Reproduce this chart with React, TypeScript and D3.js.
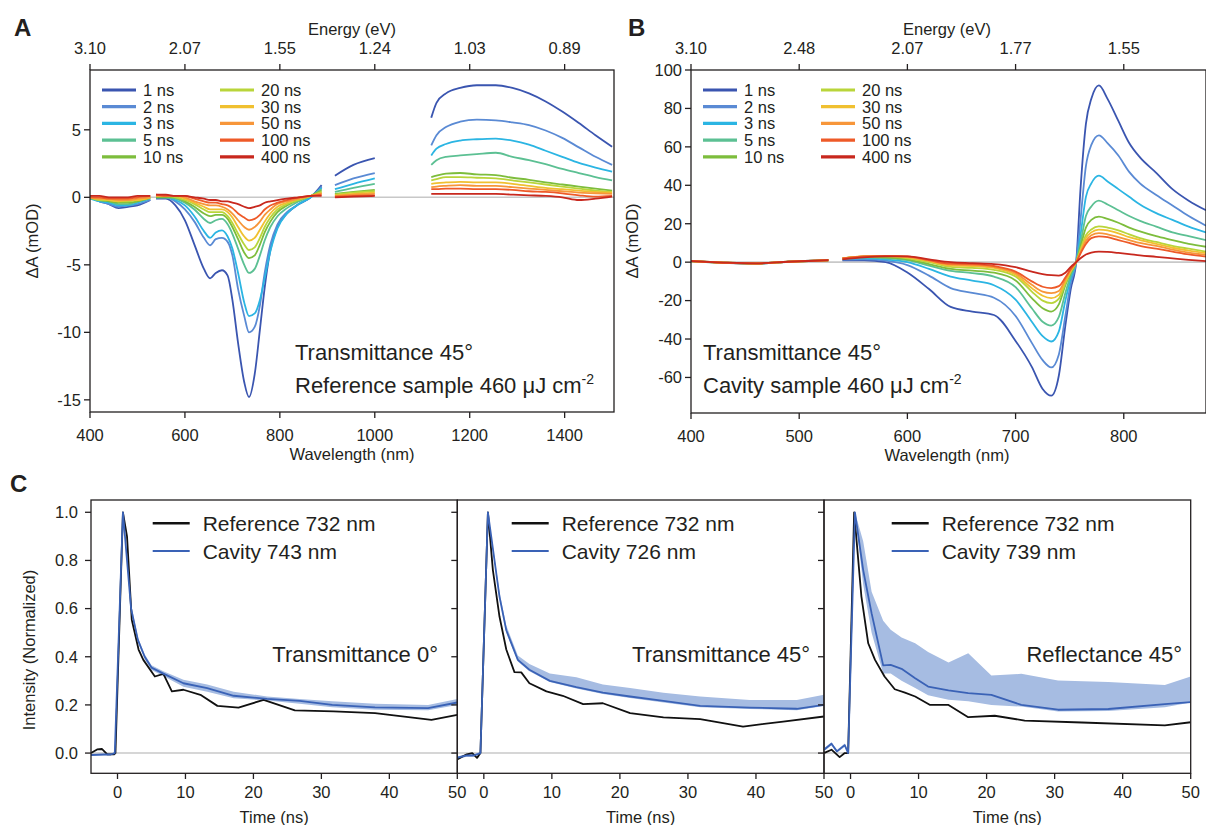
import React from "react";
import * as d3 from "d3";

// ---------------- DATA ----------------
const delays = ["1 ns", "2 ns", "3 ns", "5 ns", "10 ns", "20 ns", "30 ns", "50 ns", "100 ns", "400 ns"];
const delayColors = ["#3a55b0", "#5a8ad4", "#2bb5e3", "#5cc093", "#7dbd3c", "#b9d53a", "#f0c030", "#f7963a", "#ee5a28", "#c8281e"];

// Panel A: wavelength grid (gap entries carry null values)
const wlA = [400, 420, 440, 460, 480, 500, 527, 533,
  539, 560, 580, 600, 620, 640, 653, 665, 678, 690, 700, 712, 725, 735, 747, 758, 768, 780, 795, 815, 840, 865, 888, 900,
  916, 955, 1000, 1060,
  1119, 1130, 1150, 1180, 1215, 1255, 1290, 1325, 1360, 1395, 1430, 1465, 1500];

const a1 = [0, -0.3, -0.5, -0.8, -0.7, -0.6, -0.2, null,
  -0.1, -0.1, -0.6, -1.7, -3.5, -5.3, -6.0, -5.6, -5.4, -5.8, -7.6, -10.8, -13.7, -14.8, -13.1, -9.8, -6.7, -3.9, -2.2, -1.2, -0.5, 0.0, 0.9, null,
  1.6, 2.4, 2.9, null,
  5.9, 7.0, 7.7, 8.1, 8.3, 8.3, 8.1, 7.7, 7.1, 6.35, 5.5, 4.6, 3.75];
const a2 = [0, -0.3, -0.5, -0.7, -0.6, -0.5, -0.2, null,
  0, 0, -0.3, -0.9, -1.8, -3.0, -3.55, -3.1, -3.0, -3.3, -4.3, -6.8, -8.8, -10.0, -9.6, -8.0, -5.6, -3.5, -2.0, -1.1, -0.5, 0.0, 0.8, null,
  0.9, 1.4, 1.8, null,
  3.85, 4.6, 5.2, 5.6, 5.75, 5.7, 5.55, 5.35, 4.95, 4.4, 3.7, 3.0, 2.4];
const a3 = [-0.1, -0.3, -0.4, -0.6, -0.6, -0.4, -0.1, null,
  0, 0, -0.2, -0.6, -1.4, -2.5, -3.0, -2.6, -2.45, -2.9, -3.8, -5.6, -7.8, -8.8, -8.6, -7.6, -6.0, -4.0, -2.3, -1.2, -0.5, 0.0, 0.7, null,
  0.6, 1.0, 1.4, null,
  3.1, 3.6, 3.95, 4.2, 4.3, 4.35, 4.2, 3.9, 3.45, 3.0, 2.55, 2.2, 1.9];
const a5 = [-0.1, -0.2, -0.3, -0.5, -0.5, -0.3, -0.1, null,
  0, 0, -0.1, -0.4, -0.9, -1.6, -1.9, -1.7, -1.6, -2.0, -2.7, -3.8, -5.0, -5.6, -5.3, -4.3, -3.2, -2.2, -1.4, -0.8, -0.3, 0.1, 0.6, null,
  0.4, 0.7, 1.0, null,
  2.4, 2.75, 3.0, 3.1, 3.2, 3.3, 3.0, 2.75, 2.45, 2.1, 1.8, 1.5, 1.25];
const a10 = [0, -0.2, -0.3, -0.4, -0.4, -0.3, 0, null,
  0, 0, 0, -0.3, -0.7, -1.2, -1.4, -1.3, -1.3, -1.6, -2.2, -3.1, -4.1, -4.5, -4.3, -3.5, -2.6, -1.8, -1.1, -0.6, -0.2, 0.1, 0.5, null,
  0.25, 0.4, 0.55, null,
  1.5, 1.6, 1.75, 1.8, 1.7, 1.65, 1.45, 1.3, 1.1, 0.95, 0.8, 0.65, 0.5];
const a20 = [0, -0.2, -0.2, -0.3, -0.3, -0.2, 0, null,
  0.1, 0.1, 0, -0.2, -0.5, -0.9, -1.1, -1.1, -1.1, -1.4, -1.9, -2.7, -3.5, -3.9, -3.7, -3.0, -2.2, -1.5, -0.9, -0.5, -0.2, 0.1, 0.4, null,
  0.2, 0.35, 0.45, null,
  1.25, 1.35, 1.5, 1.5, 1.45, 1.4, 1.25, 1.1, 0.95, 0.8, 0.65, 0.5, 0.4];
const a30 = [0, -0.1, -0.2, -0.3, -0.2, -0.2, 0, null,
  0.1, 0.1, 0.1, -0.1, -0.4, -0.7, -0.9, -0.9, -0.9, -1.1, -1.5, -2.2, -2.9, -3.2, -3.0, -2.4, -1.8, -1.2, -0.7, -0.4, -0.1, 0.1, 0.3, null,
  0.15, 0.25, 0.35, null,
  1.0, 1.05, 1.1, 1.15, 1.1, 1.1, 1.0, 0.85, 0.7, 0.6, 0.5, 0.4, 0.35];
const a50 = [0, -0.1, -0.1, -0.2, -0.2, -0.1, 0, null,
  0.1, 0.1, 0.1, 0, -0.3, -0.5, -0.6, -0.6, -0.7, -0.9, -1.2, -1.7, -2.2, -2.4, -2.2, -1.8, -1.3, -0.9, -0.5, -0.3, -0.1, 0.1, 0.3, null,
  0.1, 0.2, 0.25, null,
  0.75, 0.8, 0.85, 0.9, 0.85, 0.85, 0.75, 0.65, 0.55, 0.45, 0.35, 0.3, 0.25];
const a100 = [0, 0, -0.1, -0.1, -0.1, 0, 0.1, null,
  0.2, 0.1, 0.1, 0.1, -0.1, -0.3, -0.4, -0.4, -0.5, -0.6, -0.8, -1.2, -1.5, -1.7, -1.6, -1.3, -0.9, -0.6, -0.4, -0.2, 0, 0.1, 0.2, null,
  0.05, 0.1, 0.15, null,
  0.6, 0.6, 0.65, 0.65, 0.6, 0.6, 0.55, 0.45, 0.4, 0.3, 0.15, 0.05, 0.1];
const a400 = [0.1, 0.1, 0, 0, 0, 0.1, 0.1, null,
  0.2, 0.2, 0.1, 0.1, 0, -0.1, -0.2, -0.2, -0.3, -0.3, -0.4, -0.5, -0.7, -0.8, -0.7, -0.6, -0.4, -0.3, -0.2, -0.1, 0, 0.1, 0.1, null,
  0, 0.05, 0.1, null,
  0.25, 0.25, 0.25, 0.25, 0.25, 0.25, 0.2, 0.15, 0.1, 0.0, -0.2, -0.1, 0.05];
const seriesA = [a1, a2, a3, a5, a10, a20, a30, a50, a100, a400];

// Panel B: wavelength grid
const wlB = [400, 430, 460, 490, 527, 533,
  540, 560, 580, 600, 620, 640, 660, 680, 700, 715, 725, 733, 740, 746, 751, 756, 760, 765, 770, 777, 785, 795, 805, 815, 830, 845, 860, 876];

const b1 = [0.5, -0.3, -0.8, 0.2, 1.0, null, 1.0, 1.0, 0, -5.4, -14, -23.3, -25.7, -27.5, -41, -54.5, -66, -69.5, -59, -33, -14, 0, 38, 72, 85, 92, 85, 73.5, 62, 54.5, 46.5, 38, 32, 27];
const b2 = [0.6, -0.2, -0.7, 0.3, 1.1, null, 1.3, 1.5, 0.8, -1.5, -7, -13.5, -16, -18.5, -28, -42, -51, -54.8, -48, -28, -11, 0, 22, 50, 61, 66, 62, 55.5, 47, 41, 35, 29.5, 24, 19];
const b3 = [0.4, -0.4, -0.8, 0.1, 0.9, null, 1.5, 2.0, 1.5, 0, -3.5, -7.5, -9.6, -12, -19.5, -31, -38.5, -41.3, -36, -20, -8.5, 0, 14, 34, 41, 45, 42, 38, 34, 30, 25.5, 22, 18.5, 15.5];
const b5 = [0.5, -0.2, -0.6, 0.2, 1.0, null, 1.8, 2.5, 2.0, 1.0, -1.8, -4.5, -5.7, -7.5, -13, -24, -31, -33, -28.5, -16, -7, 0, 10, 24, 29, 32, 30, 27, 24, 21.5, 18.5, 15.5, 13.5, 11.5];
const b10 = [0.6, -0.3, -0.7, 0.3, 1.1, null, 2.0, 2.8, 2.5, 1.5, -1, -3.5, -4.4, -5.5, -9.5, -18.7, -24, -25.7, -22, -12, -5.5, 0, 8, 18, 22, 23.7, 22.5, 20.5, 18, 16, 13.5, 11.5, 9.5, 8];
const b20 = [0.5, -0.2, -0.6, 0.2, 1.0, null, 2.0, 3.0, 3.0, 2.0, 0, -2.5, -3, -4, -7.5, -15.3, -20, -21.3, -19, -11, -5, 0, 6.5, 14, 17, 18.6, 18, 16.5, 14.5, 12.5, 10.5, 8.5, 7, 5.5];
const b30 = [0.4, -0.3, -0.7, 0.1, 0.9, null, 2.0, 3.0, 3.2, 2.5, 0.5, -1.8, -2, -3, -6.6, -13.5, -17.5, -18.7, -17, -10, -4.5, 0, 5.5, 12.5, 15.5, 16.9, 16.5, 15, 13, 11.5, 9.5, 7.5, 6, 4.7];
const b50 = [0.5, -0.2, -0.6, 0.2, 1.0, null, 2.0, 3.0, 3.3, 2.8, 0.8, -1.2, -1.5, -2.5, -5.7, -11.8, -15.3, -16.1, -15, -9, -4, 0, 5, 11, 14, 15.1, 14.5, 13, 11.5, 10, 8.5, 6.5, 5, 3.8];
const b100 = [0.6, -0.3, -0.7, 0.3, 1.1, null, 2.0, 3.0, 3.3, 3.0, 1.0, -0.8, -1, -2, -4.9, -10, -12.8, -13.5, -12.5, -8, -3.5, 0, 4.5, 9.5, 12.5, 13.4, 13, 11.5, 10, 8.5, 7, 5.5, 4, 2.9];
const b400 = [0.5, -0.2, -0.6, 0.2, 1.0, null, 1.5, 2.5, 3.0, 3.0, 1.5, 0, -0.5, -1, -2.6, -4.9, -6.2, -6.8, -7, -5.5, -2.5, 0, 2, 4, 5, 5.5, 5.3, 4.8, 4.2, 3.5, 2.8, 2, 1.2, 0.5];
const seriesB = [b1, b2, b3, b5, b10, b20, b30, b50, b100, b400];

// Axis ticks
const wlTicksA = [400, 600, 800, 1000, 1200, 1400];
const eTickLabelsA = ["3.10", "2.07", "1.55", "1.24", "1.03", "0.89"];
const yTicksA = [-15, -10, -5, 0, 5];
const wlTicksB = [400, 500, 600, 700, 800];
const eTickLabelsB = ["3.10", "2.48", "2.07", "1.77", "1.55"];
const yTicksB = [-60, -40, -20, 0, 20, 40, 60, 80, 100];
const timeTicks = [0, 10, 20, 30, 40, 50];
const intTicks = [0.0, 0.2, 0.4, 0.6, 0.8, 1.0];

// Panel C kinetics
const c1RefT = [-3.9, -3, -2.3, -1.5, -0.5, -0.3, 0.8, 1.4, 2.1, 3.1, 3.8, 5.5, 6.75, 8.0, 9.7, 12.2, 14.7, 17.8, 21.5, 26.1, 31.8, 37.9, 46.2, 50];
const c1RefV = [0.0, 0.015, 0.017, -0.005, -0.005, 0.0, 1.0, 0.9, 0.553, 0.43, 0.387, 0.318, 0.329, 0.256, 0.263, 0.242, 0.196, 0.189, 0.221, 0.177, 0.173, 0.166, 0.138, 0.159];
const c1CavT = [-3.9, -2, -1, -0.4, 0.8, 2.0, 3.0, 4.0, 5.0, 6.75, 9.7, 13.2, 17.1, 22, 26.8, 31.6, 37.9, 45.7, 50];
const c1CavV = [-0.008, -0.006, -0.006, 0.0, 1.0, 0.6, 0.47, 0.4, 0.355, 0.33, 0.29, 0.27, 0.238, 0.225, 0.217, 0.2, 0.19, 0.187, 0.21];
const c1CavHi = [-0.005, -0.003, -0.003, 0.003, 1.0, 0.62, 0.48, 0.41, 0.365, 0.34, 0.305, 0.285, 0.255, 0.235, 0.225, 0.215, 0.205, 0.2, 0.225];
const c1CavLo = [-0.011, -0.009, -0.009, -0.003, 1.0, 0.58, 0.46, 0.39, 0.345, 0.32, 0.275, 0.255, 0.228, 0.218, 0.205, 0.19, 0.18, 0.178, 0.2];

const c2RefT = [-4, -3.5, -2.5, -1.7, -1.0, -0.5, 0.6, 1.33, 2.3, 3.3, 4.5, 5.5, 6.7, 9.2, 11.6, 14.6, 17.5, 21.5, 26.4, 31.8, 38.1, 44, 50];
const c2RefV = [-0.028, -0.02, -0.005, 0.0, -0.02, 0.0, 1.0, 0.76, 0.567, 0.43, 0.336, 0.335, 0.29, 0.256, 0.238, 0.203, 0.207, 0.166, 0.148, 0.141, 0.11, 0.131, 0.152];
const c2CavT = [-4, -2.5, -1.5, -0.5, 0.6, 2.3, 3.3, 5.0, 6.7, 9.7, 13.6, 17.5, 21.5, 26.4, 31.8, 39.1, 46, 50];
const c2CavV = [-0.02, -0.01, -0.01, 0.0, 1.0, 0.65, 0.51, 0.387, 0.346, 0.30, 0.274, 0.251, 0.235, 0.217, 0.196, 0.189, 0.184, 0.2];
const c2CavHi = [-0.015, -0.005, -0.005, 0.005, 1.0, 0.67, 0.53, 0.405, 0.37, 0.33, 0.315, 0.285, 0.27, 0.251, 0.235, 0.22, 0.22, 0.242];
const c2CavLo = [-0.025, -0.015, -0.015, -0.005, 1.0, 0.64, 0.5, 0.38, 0.34, 0.295, 0.268, 0.245, 0.229, 0.21, 0.19, 0.183, 0.178, 0.195];

const c3RefT = [-3.9, -2.8, -1.6, -0.85, -0.35, 0.53, 1.6, 2.6, 3.6, 5.0, 6.5, 8.0, 9.5, 11.7, 14.4, 17.3, 21.2, 25.6, 34, 46.2, 50];
const c3RefV = [0, 0.014, -0.017, 0, 0, 1.0, 0.65, 0.456, 0.387, 0.318, 0.265, 0.251, 0.235, 0.2, 0.2, 0.149, 0.155, 0.135, 0.127, 0.115, 0.128];
const c3CavT = [-3.9, -2.8, -2.0, -0.85, -0.35, 0.65, 1.86, 3.1, 4.8, 5.9, 7.5, 9.5, 11.4, 14.4, 17.3, 20.7, 25.1, 30.5, 37.9, 46.2, 50];
const c3CavV = [0.014, 0.039, 0.007, 0.033, 0.0, 1.0, 0.76, 0.58, 0.364, 0.366, 0.35, 0.311, 0.276, 0.26, 0.249, 0.242, 0.2, 0.18, 0.183, 0.203, 0.212];
const c3CavHi = [0.02, 0.045, 0.013, 0.04, 0.006, 1.0, 0.88, 0.67, 0.55, 0.512, 0.48, 0.456, 0.42, 0.376, 0.415, 0.322, 0.329, 0.301, 0.295, 0.283, 0.318];
const c3CavLo = [0.008, 0.033, 0.001, 0.026, -0.006, 1.0, 0.7, 0.5, 0.33, 0.33, 0.3, 0.27, 0.24, 0.221, 0.215, 0.2, 0.193, 0.173, 0.175, 0.19, 0.21];

const refLabel = "Reference 732 nm";
const cavLabels = ["Cavity 743 nm", "Cavity 726 nm", "Cavity 739 nm"];
const panelCNotes = ["Transmittance 0°", "Transmittance 45°", "Reflectance 45°"];

// ---------------- STYLE ----------------
const FONT = "'Liberation Sans', Arial, Helvetica, sans-serif";
const INK = "#231f20";
const ZERO = "#c8c8c8";
const CAV = "#3a62b6";
const BAND = "#a6bce2";
const TICK_FS = 16.5;
const NOTE_FS = 22;

const fmtNum = (v: number) => (v < 0 ? "-" + Math.abs(v) : String(v));

function Spectra(props: {
  id: string; x: d3.ScaleLinear<number, number>; y: d3.ScaleLinear<number, number>;
  wl: number[]; series: (number | null)[][];
}) {
  const { id, x, y, wl, series } = props;
  const [x0, x1] = x.range();
  const [y0, y1] = y.range();
  const line = (vals: (number | null)[]) =>
    d3.line<number | null>()
      .defined((v) => v !== null)
      .x((_, i) => x(wl[i]))
      .y((v) => y(v as number))
      .curve(d3.curveMonotoneX)(vals) || "";
  return (
    <g>
      <clipPath id={id}><rect x={x0} y={y1} width={x1 - x0} height={y0 - y1} /></clipPath>
      <line x1={x0} x2={x1} y1={y(0)} y2={y(0)} stroke={ZERO} strokeWidth={1.6} />
      <g clipPath={`url(#${id})`}>
        {series.map((s, i) => (
          <path key={i} d={line(s)} fill="none" stroke={delayColors[i]} strokeWidth={1.8} strokeLinejoin="round" />
        ))}
      </g>
    </g>
  );
}

function Legend(props: { x: number; y: number }) {
  const { x, y } = props;
  const colDx = [0, 118];
  return (
    <g fontFamily={FONT} fontSize={16.5} fill={INK}>
      {delays.map((d, i) => {
        const col = Math.floor(i / 5);
        const row = i % 5;
        const lx = x + colDx[col];
        const ly = y + row * 16.7;
        return (
          <g key={d}>
            <line x1={lx} x2={lx + 34} y1={ly} y2={ly} stroke={delayColors[i]} strokeWidth={3.2} />
            <text x={lx + 41} y={ly} dy="0.36em">{d}</text>
          </g>
        );
      })}
    </g>
  );
}

function Frame(props: {
  x: d3.ScaleLinear<number, number>; y: d3.ScaleLinear<number, number>;
  xTicks: number[]; eLabels: string[]; yTicks: number[];
  xTitleX: number;
}) {
  const { x, y, xTicks, eLabels, yTicks, xTitleX } = props;
  const [x0, x1] = x.range();
  const [yb, yt] = y.range();
  return (
    <g fontFamily={FONT} fill={INK}>
      <rect x={x0} y={yt} width={x1 - x0} height={yb - yt} fill="none" stroke={INK} strokeWidth={1.3} />
      {xTicks.map((t, i) => (
        <g key={t}>
          <line x1={x(t)} x2={x(t)} y1={yb} y2={yb + 6} stroke={INK} strokeWidth={1.3} />
          <text x={x(t)} y={yb + 29} textAnchor="middle" fontSize={TICK_FS}>{t}</text>
          <line x1={x(t)} x2={x(t)} y1={yt} y2={yt - 6} stroke={INK} strokeWidth={1.3} />
          <text x={x(t)} y={yt - 16} textAnchor="middle" fontSize={TICK_FS}>{eLabels[i]}</text>
        </g>
      ))}
      {yTicks.map((t) => (
        <g key={t}>
          <line x1={x0} x2={x0 - 6} y1={y(t)} y2={y(t)} stroke={INK} strokeWidth={1.3} />
          <text x={x0 - 9} y={y(t)} dy="0.35em" textAnchor="end" fontSize={TICK_FS}>{fmtNum(t)}</text>
        </g>
      ))}
      <text x={xTitleX} y={yb + 48} textAnchor="middle" fontSize={TICK_FS}>Wavelength (nm)</text>
      <text x={xTitleX} y={yt - 35} textAnchor="middle" fontSize={TICK_FS}>Energy (eV)</text>
    </g>
  );
}

function Kinetics(props: {
  idx: number; x0: number; x1: number; showY: boolean;
  refT: number[]; refV: number[]; cavT: number[]; cavV: number[]; hi: number[]; lo: number[];
  legendX: number; noteX: number;
}) {
  const { idx, x0, x1, showY, refT, refV, cavT, cavV, hi, lo, legendX, noteX } = props;
  const x = d3.scaleLinear().domain([-3.9, 50]).range([x0, x1]);
  const y = d3.scaleLinear().domain([-0.084, 1.051]).range([773.3, 500]);
  const refLine = d3.line<number>().x((_, i) => x(refT[i])).y((v) => y(v))(refV) || "";
  const cavLine = d3.line<number>().x((_, i) => x(cavT[i])).y((v) => y(v))(cavV) || "";
  const band = d3.area<number>().x((_, i) => x(cavT[i])).y0((_, i) => y(lo[i])).y1((v) => y(v))(hi) || "";
  const cid = `clipC${idx}`;
  return (
    <g fontFamily={FONT} fill={INK}>
      <clipPath id={cid}><rect x={x0} y={500} width={x1 - x0} height={273.3} /></clipPath>
      <line x1={x0} x2={x1} y1={y(0)} y2={y(0)} stroke={ZERO} strokeWidth={1.6} />
      <g clipPath={`url(#${cid})`}>
        <path d={band} fill={BAND} stroke="none" />
        <path d={refLine} fill="none" stroke="#111" strokeWidth={1.8} strokeLinejoin="round" />
        <path d={cavLine} fill="none" stroke={CAV} strokeWidth={1.8} strokeLinejoin="round" />
      </g>
      <rect x={x0} y={500} width={x1 - x0} height={273.3} fill="none" stroke={INK} strokeWidth={1.3} />
      {timeTicks.map((t) => (
        <g key={t}>
          <line x1={x(t)} x2={x(t)} y1={773.3} y2={779} stroke={INK} strokeWidth={1.3} />
          <text x={x(t)} y={797.5} textAnchor="middle" fontSize={TICK_FS}>{t}</text>
        </g>
      ))}
      {intTicks.map((t) => (
        <g key={t}>
          <line x1={x0} x2={x0 - 6} y1={y(t)} y2={y(t)} stroke={INK} strokeWidth={1.3} />
          {showY && <text x={x0 - 13} y={y(t)} dy="0.35em" textAnchor="end" fontSize={TICK_FS}>{t.toFixed(1)}</text>}
        </g>
      ))}
      <text x={(x0 + x1) / 2} y={822.5} textAnchor="middle" fontSize={TICK_FS}>Time (ns)</text>
      <line x1={legendX} x2={legendX + 37} y1={523.3} y2={523.3} stroke="#111" strokeWidth={2.4} />
      <line x1={legendX} x2={legendX + 37} y1={551} y2={551} stroke={CAV} strokeWidth={2} />
      <text x={legendX + 50} y={523.3} dy="0.36em" fontSize={21}>{refLabel}</text>
      <text x={legendX + 50} y={551} dy="0.36em" fontSize={21}>{cavLabels[idx]}</text>
      <text x={noteX} y={661.5} textAnchor="end" fontSize={NOTE_FS}>{panelCNotes[idx]}</text>
    </g>
  );
}

export default function App() {
  const xA = d3.scaleLinear().domain([400, 1504]).range([90, 614]);
  const yA = d3.scaleLinear().domain([-15.9, 9.43]).range([412, 70]);
  const xB = d3.scaleLinear().domain([400, 876]).range([691, 1206]);
  const yB = d3.scaleLinear().domain([-78.5, 100]).range([413, 70]);

  return (
    <div style={{ position: "absolute", left: 0, top: 0 }}>
      <svg width={1206} height={825} viewBox="0 0 1206 825" style={{ display: "block", background: "#ffffff" }}>
        {/* Panel A */}
        <Spectra id="clipA" x={xA} y={yA} wl={wlA} series={seriesA} />
        <Frame x={xA} y={yA} xTicks={wlTicksA} eLabels={eTickLabelsA} yTicks={yTicksA} xTitleX={352} />
        <Legend x={102} y={90} />
        <text x={14} y={36} fontFamily={FONT} fontSize={24} fontWeight="bold" fill={INK}>A</text>
        <text transform="translate(38,241) rotate(-90)" textAnchor="middle" fontFamily={FONT} fontSize={TICK_FS} fill={INK}>ΔA (mOD)</text>
        <g fontFamily={FONT} fontSize={NOTE_FS} fill={INK}>
          <text x={295} y={360}>Transmittance 45°</text>
          <text x={295} y={393}>Reference sample 460 μJ cm<tspan dy={-9} fontSize={14}>-2</tspan></text>
        </g>

        {/* Panel B */}
        <Spectra id="clipB" x={xB} y={yB} wl={wlB} series={seriesB} />
        <Frame x={xB} y={yB} xTicks={wlTicksB} eLabels={eTickLabelsB} yTicks={yTicksB} xTitleX={947} />
        <Legend x={703} y={90} />
        <text x={628} y={36} fontFamily={FONT} fontSize={24} fontWeight="bold" fill={INK}>B</text>
        <text transform="translate(638,241) rotate(-90)" textAnchor="middle" fontFamily={FONT} fontSize={TICK_FS} fill={INK}>ΔA (mOD)</text>
        <g fontFamily={FONT} fontSize={NOTE_FS} fill={INK}>
          <text x={703} y={360}>Transmittance 45°</text>
          <text x={703} y={393}>Cavity sample 460 μJ cm<tspan dy={-9} fontSize={14}>-2</tspan></text>
        </g>

        {/* Panel C */}
        <text x={10} y={492} fontFamily={FONT} fontSize={24} fontWeight="bold" fill={INK}>C</text>
        <text transform="translate(35,650) rotate(-90)" textAnchor="middle" fontFamily={FONT} fontSize={TICK_FS} fill={INK}>Intensity (Normalized)</text>
        <Kinetics idx={0} x0={91} x1={457.3} showY={true} refT={c1RefT} refV={c1RefV} cavT={c1CavT} cavV={c1CavV} hi={c1CavHi} lo={c1CavLo} legendX={152.7} noteX={438} />
        <Kinetics idx={1} x0={457.3} x1={824} showY={false} refT={c2RefT} refV={c2RefV} cavT={c2CavT} cavV={c2CavV} hi={c2CavHi} lo={c2CavLo} legendX={511.7} noteX={810} />
        <Kinetics idx={2} x0={824} x1={1190.7} showY={false} refT={c3RefT} refV={c3RefV} cavT={c3CavT} cavV={c3CavV} hi={c3CavHi} lo={c3CavLo} legendX={891.7} noteX={1182} />
      </svg>
    </div>
  );
}
